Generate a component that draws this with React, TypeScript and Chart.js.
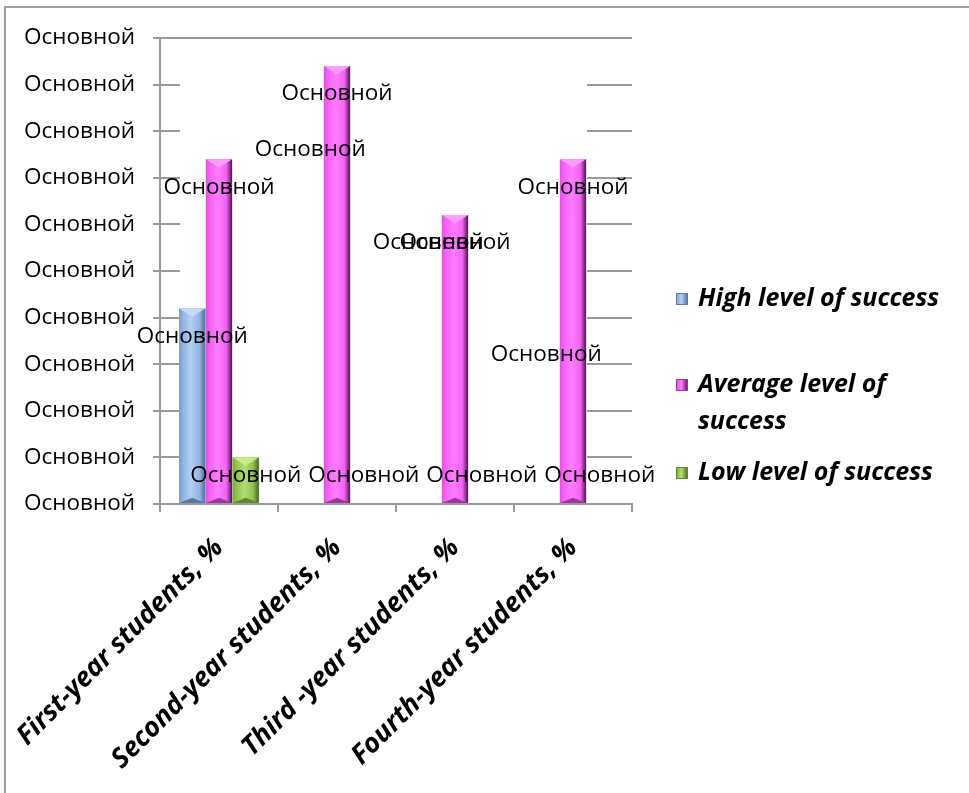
import React, { useEffect, useRef } from "react";
import { Chart, registerables } from "chart.js";

Chart.register(...registerables);

const categories = [
  "First-year students, %",
  "Second-year students, %",
  "Third -year students, %",
  "Fourth-year students, %",
];
const seriesNames = ["High level of success", "Average level of success", "Low level of success"];
const highValues = [42, 0, 0, 0];
const averageValues = [74, 94, 62, 74];
const lowValues = [10, 0, 0, 0];
const yTickLabels = [
  "Основной", "Основной", "Основной", "Основной", "Основной", "Основной",
  "Основной", "Основной", "Основной", "Основной", "Основной",
];
const dataLabelText = "Основной";
const highLabelAt = [36, 76, 56, 32];
const averageLabelAt = [68, 88, 56, 68];
const lowLabelAt = [6, 6, 6, 6];

const palettes = [
  { base: "#95b3d7", edge: "#7d9cc8", mid: "#93b4e2", light: "#b3d0f5", dark: "#4e6c98", top: "#c4dcf8", bottom: "#5a79a6" },
  { base: "#ff55ff", edge: "#e34fe3", mid: "#f562f5", light: "#ff7cff", dark: "#4a164a", top: "#ff9cff", bottom: "#a035a0" },
  { base: "#92d050", edge: "#79a83c", mid: "#8fc24e", light: "#b2dc74", dark: "#46661f", top: "#c6ea8e", bottom: "#5f8a2c" },
];

const GRID = "#9a9a9a";
const TICK_FONT = "'Open Sans', 'Noto Sans', sans-serif";
const LEGEND_FONT = "'Open Sans', 'Noto Sans', sans-serif";

const gridPlugin = {
  id: "partialGrid",
  beforeDatasetsDraw(chart: any) {
    const { ctx, chartArea, scales } = chart;
    const y = scales.y;
    ctx.save();
    ctx.strokeStyle = GRID;
    ctx.lineWidth = 2;
    y.ticks.forEach((t: any) => {
      const py = Math.round(y.getPixelForValue(t.value));
      if (t.value === 0) return;
      ctx.beginPath();
      if (t.value === y.max) {
        ctx.moveTo(chartArea.left, py);
        ctx.lineTo(chartArea.right, py);
      } else {
        ctx.moveTo(chartArea.left, py);
        ctx.lineTo(chartArea.left + 20, py);
        ctx.moveTo(chartArea.right - 45, py);
        ctx.lineTo(chartArea.right, py);
      }
      ctx.stroke();
    });
    ctx.restore();
  },
};

const bevelPlugin = {
  id: "bevelBars",
  afterDatasetsDraw(chart: any) {
    const ctx = chart.ctx;
    chart.data.datasets.forEach((_ds: any, di: number) => {
      const meta = chart.getDatasetMeta(di);
      const pal = palettes[di];
      meta.data.forEach((el: any) => {
        const { x, y, base, width } = el.getProps(["x", "y", "base", "width"], true);
        const h = base - y;
        if (h < 1) return;
        const l = x - width / 2;
        const r = x + width / 2;
        const g = ctx.createLinearGradient(l, 0, r, 0);
        g.addColorStop(0, pal.edge);
        g.addColorStop(0.15, pal.mid);
        g.addColorStop(0.45, pal.light);
        g.addColorStop(0.78, pal.mid);
        g.addColorStop(1, pal.dark);
        ctx.save();
        ctx.fillStyle = g;
        ctx.fillRect(l, y, width, h);
        const b = Math.min(width * 0.32, h / 2);
        ctx.fillStyle = pal.top;
        ctx.beginPath();
        ctx.moveTo(l, y);
        ctx.lineTo(r, y);
        ctx.lineTo(x, y + b);
        ctx.closePath();
        ctx.fill();
        const bb = Math.min(width * 0.2, h / 3);
        ctx.fillStyle = pal.bottom;
        ctx.beginPath();
        ctx.moveTo(l, base);
        ctx.lineTo(r, base);
        ctx.lineTo(x, base - bb);
        ctx.closePath();
        ctx.fill();
        ctx.restore();
      });
    });
  },
};

const labelAnchors = [highLabelAt, averageLabelAt, lowLabelAt];

const dataLabelPlugin = {
  id: "dataLabels",
  afterDraw(chart: any) {
    const ctx = chart.ctx;
    const yScale = chart.scales.y;
    ctx.save();
    ctx.font = `22.5px ${TICK_FONT}`;
    ctx.fillStyle = "#000";
    ctx.textAlign = "center";
    ctx.textBaseline = "middle";
    labelAnchors.forEach((anchors, di) => {
      const meta = chart.getDatasetMeta(di);
      meta.data.forEach((el: any, i: number) => {
        ctx.fillText(dataLabelText, el.x, yScale.getPixelForValue(anchors[i]));
      });
    });
    ctx.restore();
  },
};

function LegendIcon({ pal }: { pal: any }) {
  return (
    <span
      style={{
        display: "inline-block",
        width: 12,
        height: 12,
        background: `linear-gradient(90deg, ${pal.edge}, ${pal.light} 45%, ${pal.dark})`,
        boxShadow: `inset 0 0 0 1px ${pal.bottom}`,
      }}
    />
  );
}

export default function App() {
  const canvasRef = useRef<HTMLCanvasElement | null>(null);

  useEffect(() => {
    if (!canvasRef.current) return;
    const chart = new Chart(canvasRef.current, {
      type: "bar",
      data: {
        labels: categories,
        datasets: [
          { label: seriesNames[0], data: highValues, backgroundColor: palettes[0].base },
          { label: seriesNames[1], data: averageValues, backgroundColor: palettes[1].base },
          { label: seriesNames[2], data: lowValues, backgroundColor: palettes[2].base },
        ],
      },
      options: {
        animation: false,
        responsive: false,
        maintainAspectRatio: false,
        devicePixelRatio: 1,
        datasets: { bar: { categoryPercentage: 0.68, barPercentage: 0.98, borderWidth: 0 } },
        layout: { padding: { left: 0, top: 38, right: 337, bottom: 0 } },
        plugins: { legend: { display: false }, tooltip: { enabled: false }, title: { display: false } },
        scales: {
          x: {
            offset: true,
            grid: { drawOnChartArea: false, drawTicks: true, tickLength: 8, color: GRID, lineWidth: 2, offset: true },
            border: { color: GRID, width: 2 },
            ticks: {
              color: "#000",
              font: { family: LEGEND_FONT, size: 27, weight: "bold", style: "italic" },
              maxRotation: 45,
              minRotation: 45,
              autoSkip: false,
              padding: 20,
              labelOffset: 0,
            },
            afterFit(scale: any) {
              scale.height = 289;
              scale.paddingLeft = 0;
              scale.paddingRight = 0;
            },
          },
          y: {
            min: 0,
            max: 100,
            grid: { drawOnChartArea: false, drawTicks: true, tickLength: 7, color: GRID, lineWidth: 2 },
            border: { color: GRID, width: 2 },
            ticks: {
              stepSize: 10,
              color: "#000",
              padding: 18,
              font: { family: TICK_FONT, size: 22.5 },
              callback: (_v: any, i: number) => yTickLabels[i],
            },
            afterFit(scale: any) {
              scale.width = 160;
              scale.paddingTop = 0;
              scale.paddingBottom = 0;
            },
          },
        },
      },
      plugins: [gridPlugin, bevelPlugin, dataLabelPlugin],
    });
    return () => chart.destroy();
  }, []);

  const legendText: React.CSSProperties = {
    fontFamily: LEGEND_FONT,
    fontWeight: "bold",
    fontStyle: "italic",
    fontSize: 25,
    color: "#000",
    lineHeight: "37px",
    whiteSpace: "normal",
  };

  return (
    <div style={{ position: "fixed", left: 0, top: 0, width: 969, height: 793, overflow: "hidden", background: "#fff" }}>
      <div
        style={{
          position: "absolute",
          left: 4,
          top: 6,
          width: 1200,
          height: 1200,
          borderTop: "2px solid #a0a0a0",
          borderLeft: "2px solid #a0a0a0",
        }}
      />
      <canvas ref={canvasRef} width={969} height={793} style={{ position: "absolute", left: 0, top: 0 }} />
      <div style={{ position: "absolute", left: 676, top: 278, width: 290 }}>
        <div style={{ display: "flex", alignItems: "flex-start" }}>
          <div style={{ marginTop: 13, width: 22, flex: "none" }}><LegendIcon pal={palettes[0]} /></div>
          <div style={{ ...legendText, whiteSpace: "nowrap" }}>{seriesNames[0]}</div>
        </div>
        <div style={{ display: "flex", alignItems: "flex-start", marginTop: 49 }}>
          <div style={{ marginTop: 13, width: 22, flex: "none" }}><LegendIcon pal={palettes[1]} /></div>
          <div style={{ ...legendText, width: 235 }}>{seriesNames[1]}</div>
        </div>
        <div style={{ display: "flex", alignItems: "flex-start", marginTop: 14 }}>
          <div style={{ marginTop: 13, width: 22, flex: "none" }}><LegendIcon pal={palettes[2]} /></div>
          <div style={{ ...legendText, whiteSpace: "nowrap" }}>{seriesNames[2]}</div>
        </div>
      </div>
    </div>
  );
}
